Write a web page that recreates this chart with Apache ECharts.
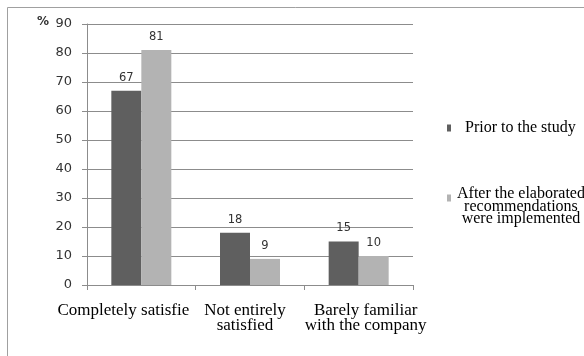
<!DOCTYPE html>
<html>
<head>
<meta charset="utf-8">
<script src="https://cdn.jsdelivr.net/npm/echarts@6/dist/echarts.min.js"></script>
<style>
  html, body { margin: 0; padding: 0; background: #fff; }
  #chart { width: 584px; height: 356px; }
</style>
</head>
<body>
<div id="chart"></div>
<script>
// Satisfaction survey: share of respondents before and after the recommendations
const categories = ['Completely satisfie', 'Not entirely\nsatisfied', 'Barely familiar\nwith the company'];
const priorValues = [67, 18, 15];
const afterValues = [81, 9, 10];
const seriesNames = ['Prior to the study', 'After the elaborated recommendations were implemented'];
const afterLegendLines = ['After the elaborated', 'recommendations', 'were implemented'];
const yTicks = { min: 0, max: 90, interval: 10 };

const chart = echarts.init(document.getElementById('chart'), null, { renderer: 'canvas' });

const serif = 'Liberation Serif';
const valueLabel = { fontFamily: 'DejaVu Sans', fontSize: 11.5, color: '#333' };
const catText = { fontFamily: serif, fontSize: 17, lineHeight: 15, color: '#000' };

chart.setOption({
  animation: false,
  backgroundColor: '#fff',
  grid: { left: 87, right: 171, top: 24, bottom: 71, containLabel: false },
  xAxis: {
    type: 'category',
    data: categories,
    axisLine: { lineStyle: { color: '#8c8c8c', width: 1 } },
    axisTick: { show: true, length: 5, lineStyle: { color: '#8c8c8c' } },
    axisLabel: {
      margin: 18,
      interval: 0,
      formatter: (v, i) => v.split('\n').map(l => '{c' + i + '|' + l + '}').join('\n'),
      rich: {
        c0: Object.assign({ padding: [0, 36, 0, 0] }, catText),
        c1: Object.assign({ padding: [0, 10, 0, 0] }, catText),
        c2: Object.assign({ padding: [0, 0, 0, 14] }, catText)
      }
    }
  },
  yAxis: {
    type: 'value',
    min: yTicks.min,
    max: yTicks.max,
    interval: yTicks.interval,
    axisLine: { show: true, lineStyle: { color: '#8c8c8c' } },
    axisTick: { show: true, length: 5, lineStyle: { color: '#8c8c8c' } },
    axisLabel: { margin: 15, fontFamily: 'DejaVu Sans', fontSize: 13, color: '#333' },
    splitLine: { lineStyle: { color: '#8c8c8c', width: 1 } }
  },
  legend: [
    {
      data: [seriesNames[0]],
      orient: 'vertical',
      left: 442,
      top: 115,
      icon: 'rect',
      itemWidth: 4,
      itemHeight: 7,
      textStyle: { fontFamily: serif, fontSize: 16, lineHeight: 16, color: '#000', padding: [0, 0, 0, 9] }
    },
    {
      data: [seriesNames[1]],
      orient: 'vertical',
      left: 442,
      top: 181,
      icon: 'rect',
      itemWidth: 4,
      itemHeight: 7,
      formatter: () => afterLegendLines.map(l => '{a|' + l + '}').join('\n'),
      textStyle: {
        color: '#000',
        padding: [17, 0, 0, 1],
        rich: { a: { fontFamily: serif, fontSize: 16, lineHeight: 12.5, color: '#000', align: 'center' } }
      }
    }
  ],
  series: [
    {
      name: seriesNames[0],
      type: 'bar',
      data: priorValues,
      barWidth: 30,
      barGap: '0%',
      itemStyle: { color: '#5f5f5f' },
      label: Object.assign({ show: true, position: 'top', distance: 7 }, valueLabel)
    },
    {
      name: seriesNames[1],
      type: 'bar',
      data: afterValues,
      barWidth: 30,
      itemStyle: { color: '#b3b3b3' },
      label: Object.assign({ show: true, position: 'top', distance: 7 }, valueLabel)
    }
  ],
  graphic: [
    // frame around the chart
    { type: 'line', shape: { x1: 7.5, y1: 7.5, x2: 584, y2: 7.5 }, style: { stroke: '#a0a0a0', lineWidth: 1 } },
    { type: 'line', shape: { x1: 7.5, y1: 7.5, x2: 7.5, y2: 356 }, style: { stroke: '#a0a0a0', lineWidth: 1 } },
    // unit label of the value axis
    { type: 'text', left: 37, top: 16, style: { text: '%', fontFamily: 'DejaVu Sans', fontSize: 12, fontWeight: 'bold', fill: '#333' } }
  ]
});
</script>
</body>
</html>
